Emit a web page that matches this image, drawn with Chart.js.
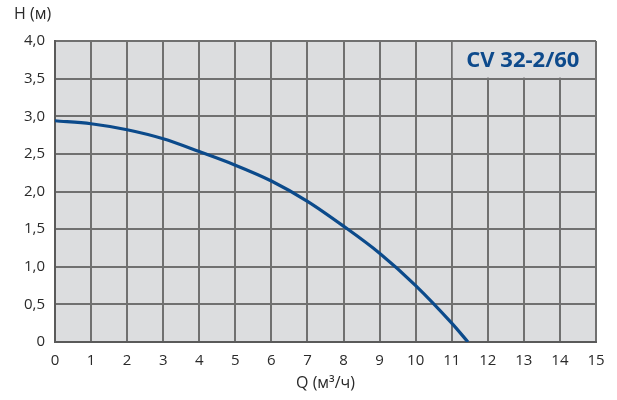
<!DOCTYPE html>
<html><head><meta charset="utf-8">
<script src="https://cdn.jsdelivr.net/npm/chart.js@4"></script>
<style>html,body{margin:0;padding:0;background:#fff}#wrap{width:617px;height:400px}</style>
</head><body><div id="wrap"><canvas id="c" width="617" height="400"></canvas></div>
<script>
const flowQ = [0, 1, 2, 3, 4, 5, 6, 7, 8, 9, 10, 11, 11.45];
const headH = [2.94, 2.90, 2.82, 2.70, 2.53, 2.35, 2.14, 1.87, 1.54, 1.18, 0.75, 0.25, 0];
const xTickLabels = ['0','1','2','3','4','5','6','7','8','9','10','11','12','13','14','15'];
const yTickLabels = ['0','0,5','1,0','1,5','2,0','2,5','3,0','3,5','4,0'];
const modelName = 'CV 32-2/60';
const yTitle = 'H (м)';
const xTitle = 'Q (м³/ч)';

const FONT = '"Open Sans", "Noto Sans", sans-serif';
const BG = '#dcdddf';

const bgPlugin = {
  id: 'bgPlugin',
  beforeDraw(chart) {
    const {ctx, chartArea: a} = chart;
    ctx.save();
    ctx.fillStyle = BG;
    ctx.fillRect(a.left, a.top, a.right - a.left, a.bottom - a.top);
    ctx.restore();
  },
  beforeDatasetsDraw(chart) {
    const {ctx, scales: {x, y}} = chart;
    const x0 = x.getPixelForValue(11), x1 = x.getPixelForValue(15);
    const y0 = y.getPixelForValue(4), y1 = y.getPixelForValue(3.5);
    ctx.save();
    ctx.fillStyle = BG;
    ctx.fillRect(x0 + 1, y0 + 1, x1 - x0 - 2, y1 - y0 - 2);
    ctx.fillStyle = '#0d4a8c';
    ctx.font = 'bold 22px ' + FONT;
    ctx.textAlign = 'center';
    ctx.textBaseline = 'middle';
    ctx.fillText(modelName, (x0 + x1) / 2 - 1, (y0 + y1) / 2 + 1);
    ctx.restore();
  },
  afterDraw(chart) {
    const {ctx, chartArea: a} = chart;
    ctx.save();
    ctx.fillStyle = '#2a2a2a';
    ctx.font = '16px ' + FONT;
    ctx.textBaseline = 'middle';
    ctx.textAlign = 'left';
    ctx.fillText(yTitle, 14, 14);
    ctx.textAlign = 'center';
    ctx.fillText(xTitle, (a.left + a.right) / 2, 383);
    ctx.restore();
  }
};

new Chart(document.getElementById('c'), {
  type: 'line',
  data: {
    datasets: [{
      data: flowQ.map((q, i) => ({x: q, y: headH[i]})),
      borderColor: '#0b4a8b',
      borderWidth: 3.2,
      pointRadius: 0,
      fill: false,
      cubicInterpolationMode: 'monotone'
    }]
  },
  options: {
    responsive: false,
    animation: false,
    layout: {padding: {top: 41, right: 21, bottom: 0, left: 0}},
    plugins: {legend: {display: false}, tooltip: {enabled: false}, title: {display: false}},
    scales: {
      x: {
        type: 'linear', min: 0, max: 15,
        afterFit(s) { s.height = 58; },
        ticks: {stepSize: 1, color: '#2a2a2a', font: {family: FONT, size: 15}, padding: 10,
          callback: (v) => xTickLabels[Math.round(v)]},
        grid: {color: '#707070', lineWidth: 2, drawTicks: false},
        border: {color: '#5a5a5a', width: 2}
      },
      y: {
        type: 'linear', min: 0, max: 4,
        afterFit(s) { s.width = 55; },
        ticks: {stepSize: 0.5, color: '#2a2a2a', font: {family: FONT, size: 15}, padding: 10,
          callback: (v) => yTickLabels[Math.round(v * 2)]},
        grid: {color: '#707070', lineWidth: 2, drawTicks: false},
        border: {color: '#5a5a5a', width: 2}
      }
    }
  },
  plugins: [bgPlugin]
});
</script></body></html>
